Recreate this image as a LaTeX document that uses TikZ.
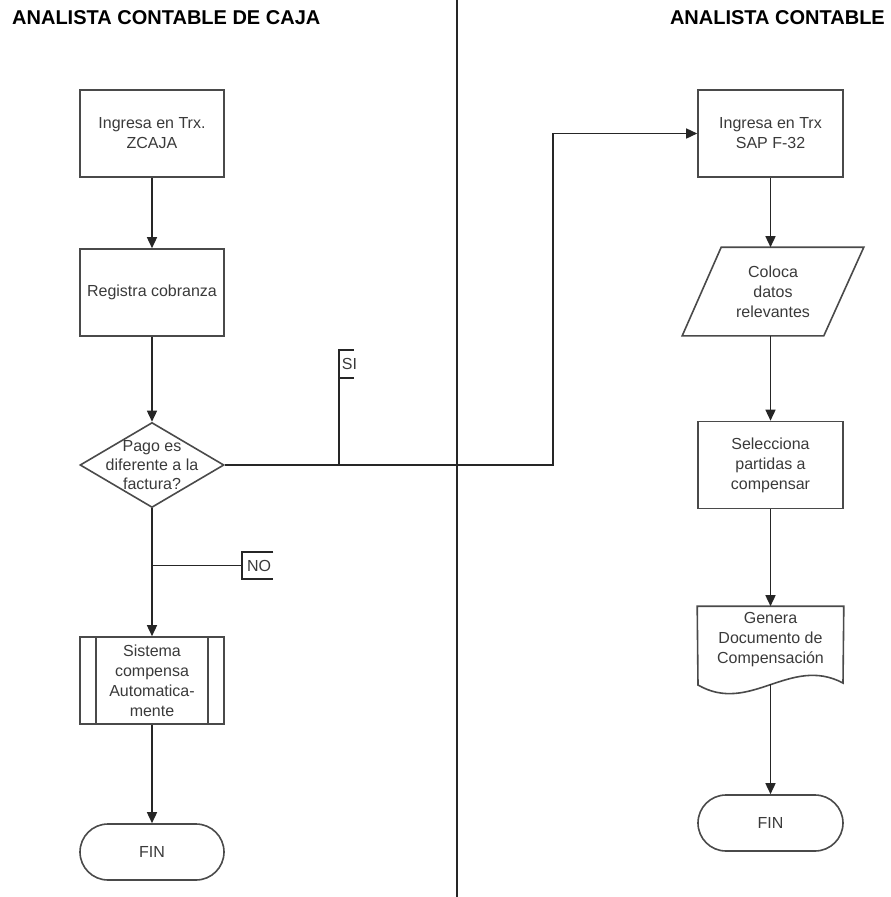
\documentclass[tikz,border=0pt]{standalone}
\usepackage{fontspec}
\setmainfont{Liberation Sans}
\usetikzlibrary{arrows.meta,shapes.geometric}
\definecolor{linegray}{HTML}{4A4A4A}
\definecolor{textgray}{HTML}{3A3A3A}

\begin{document}
\begin{tikzpicture}[x=1pt, y=-1pt,
    box/.style={draw=linegray, line width=1.6pt, minimum width=145pt,
      minimum height=87pt, inner sep=0pt, align=center, text=textgray,
      font=\fontsize{16}{20}\selectfont},
    plain/.style={box, draw=none},
    decision/.style={diamond, draw=linegray, line width=1.6pt,
      minimum width=144pt, minimum height=85pt, inner sep=0pt},
    term/.style={box, rounded corners=28pt, minimum height=56pt},
    txt/.style={align=center, text=textgray, inner sep=0pt,
      font=\fontsize{16}{19}\selectfont},
    flag/.style={txt, anchor=west, inner sep=0pt},
    head/.style={font=\fontsize{20}{24}\selectfont\bfseries, inner sep=0pt},
    shapeline/.style={draw=linegray, line width=1.6pt},
    line/.style={draw=black!85, line width=1.5pt},
    conn/.style={line, -{Triangle[length=11pt,width=10pt]}}]
  \def\xl{152}
  \def\xr{770.5}
  \useasboundingbox (0,0) rectangle (891,897);
  %
  \draw[line] (457,0) -- (457,897);   % lane divider
  \node[head, anchor=west] (hcaja) at (12,18) {ANALISTA CONTABLE DE CAJA};
  \node[head, anchor=east] (hcont) at (885,18) {ANALISTA CONTABLE};
  %
  % left lane
  \node[box, minimum width=144pt] (zcaja) at (\xl,133.5) {Ingresa en Trx.\\ZCAJA};
  \node[box, minimum width=144pt] (cobr) at (\xl,292.5) {Registra cobranza};
  \node[decision] (pago) at (\xl,465) {};
  \node[txt] (pagotxt) at (pago) {Pago es\\diferente a la\\factura?};
  \node[box, minimum width=144pt] (comp) at (\xl,680.5)
    {Sistema\\compensa\\Automatica-\\mente};
  \draw[shapeline] ([xshift=17pt]comp.north west) -- ([xshift=17pt]comp.south west);
  \draw[shapeline] ([xshift=-17pt]comp.north east) -- ([xshift=-17pt]comp.south east);
  \node[term, minimum width=144pt] (fin1) at (\xl,852) {FIN};
  %
  \draw[conn] (zcaja) -- (cobr);
  \draw[conn] (cobr) -- (pago);
  \draw[conn] (pago) -- (comp);
  \draw[conn] (comp) -- (fin1);
  %
  % NO branch
  \coordinate (no) at (\xl,565.5);
  \node[flag, minimum width=31pt, minimum height=27pt] (nolbl) at (242,565.5) {\,NO};
  \draw[line] (no) -- (nolbl.west);
  \draw[line] (nolbl.north east) -- (nolbl.north west) -- (nolbl.south west) -- (nolbl.south east);
  %
  % SI branch
  \coordinate (si) at (339,465);
  \node[flag, minimum width=15pt, minimum height=28pt, text width=15pt] (silbl) at (339,364) {\,SI};
  \draw[line] (si) -- (silbl.north west) -- (silbl.north east);
  \draw[line] (silbl.south west) -- (silbl.south east);
  %
  % right lane
  \node[box] (sap) at (\xr,133.5) {Ingresa en Trx\\SAP F-32};
  \node[plain, minimum width=180pt] (datos) at (773,291.5) {Coloca\\datos\\relevantes};
  \draw[shapeline] ([xshift=39pt]datos.north west) -- (datos.north east)
    -- ([xshift=-40pt]datos.south east) -- (datos.south west) -- cycle;
  \node[box] (selec) at (\xr,465) {Selecciona\\partidas a\\compensar};
  \node[plain, minimum height=66pt] (docu) at (\xr,640)
    {Genera\\Documento de\\Compensación};
  \draw[shapeline] (docu.north west) -- (docu.north east) -- (843,683)
    .. controls (790,655) and (750,715) .. (698,685) -- cycle;
  \coordinate (docb) at (\xr,684);
  \node[term] (fin2) at (\xr,823) {FIN};
  %
  \coordinate (codo1) at (553,465);
  \coordinate (codo2) at (553,133.5);
  \draw[conn] (pago.east) -- (codo1) -- (codo2) -- (sap.west);
  \draw[conn] (sap.south) -- (sap.south |- datos.north);
  \draw[conn] (datos.south -| selec) -- (selec);
  \draw[conn] (selec) -- (docu);
  \draw[conn] (docb) -- (fin2);
  %
\end{tikzpicture}
\end{document}
